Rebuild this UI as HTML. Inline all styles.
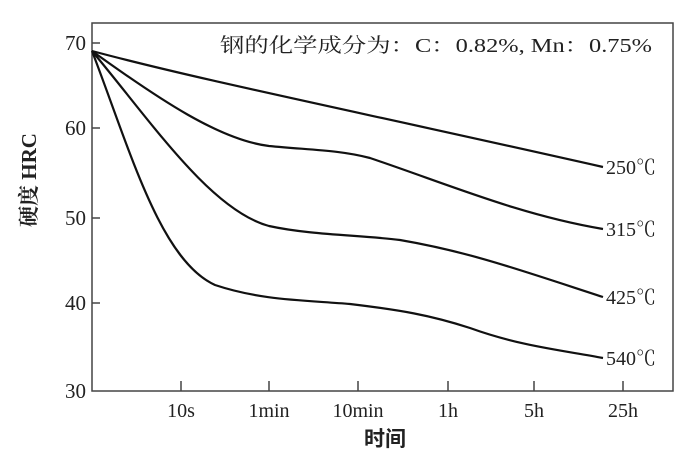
<!DOCTYPE html>
<html><head><meta charset="utf-8"><style>
html,body{margin:0;padding:0;background:#fff;width:690px;height:459px;overflow:hidden}
</style></head><body>
<svg width="690" height="459" viewBox="0 0 690 459" xmlns="http://www.w3.org/2000/svg" font-family="'Liberation Serif','Noto Serif CJK SC',serif" fill="#222">
<rect x="92" y="23" width="581" height="368" fill="none" stroke="#444" stroke-width="1.5"/>
<g stroke="#444" stroke-width="1.5">
<line x1="92" y1="43" x2="100" y2="43"/><line x1="92" y1="128" x2="100" y2="128"/><line x1="92" y1="218" x2="100" y2="218"/><line x1="92" y1="303" x2="100" y2="303"/>
<line x1="181" y1="391" x2="181" y2="381"/><line x1="269" y1="391" x2="269" y2="381"/><line x1="358" y1="391" x2="358" y2="381"/><line x1="448" y1="391" x2="448" y2="381"/><line x1="534" y1="391" x2="534" y2="381"/><line x1="623" y1="391" x2="623" y2="381"/>
</g>
<g font-size="21" text-anchor="end">
<text x="86" y="50">70</text><text x="86" y="135">60</text><text x="86" y="225">50</text><text x="86" y="310">40</text><text x="86" y="398">30</text>
</g>
<g font-size="20" text-anchor="middle">
<text x="181" y="417">10s</text><text x="269" y="417">1min</text><text x="358" y="417">10min</text><text x="448" y="417">1h</text><text x="534" y="417">5h</text><text x="623" y="417">25h</text>
</g>
<text x="385" y="446" font-size="21" text-anchor="middle" font-family="'Noto Sans CJK SC',sans-serif" font-weight="bold">时间</text>
<text transform="translate(36,180) rotate(-90)" font-size="21" text-anchor="middle" font-weight="bold">硬度 HRC</text>
<text x="220" y="52" font-size="20" textLength="432" lengthAdjust="spacingAndGlyphs">钢的化学成分为：C：0.82%, Mn：0.75%</text>
<g fill="none" stroke="#111" stroke-width="2.2">
<path d="M92,51 C200,80 350,110 603,167"/>
<path d="M92,51 C160,100 220,140 269,146 C310,150 340,150 370,158 C450,185 520,215 603,229"/>
<path d="M92,51 C150,120 210,210 269,226 C310,235 360,235 400,240 C470,252 520,270 603,297"/>
<path d="M92,51 C130,150 160,260 215,285 C260,300 300,300 350,304 C400,310 430,315 470,328 C520,346 560,350 603,358"/>
</g>
<g font-size="20">
<text x="606" y="174">250℃</text><text x="606" y="236">315℃</text><text x="606" y="304">425℃</text><text x="606" y="365">540℃</text>
</g>
</svg>
</body></html>
